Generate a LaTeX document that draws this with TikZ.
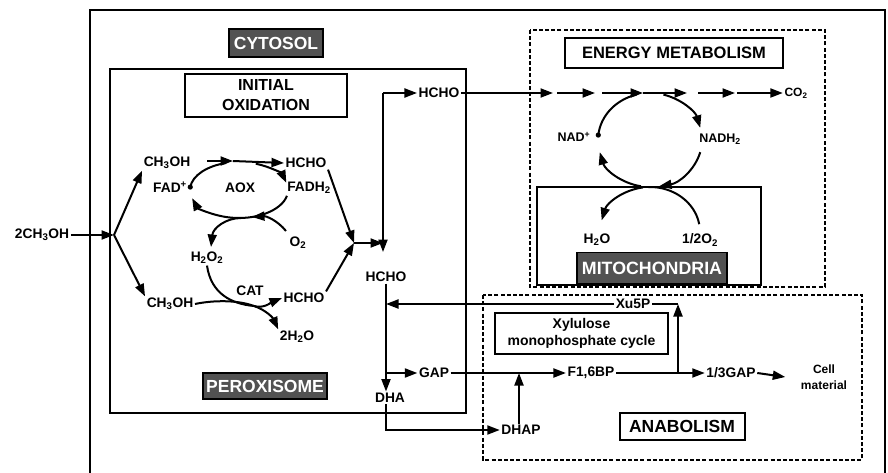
\documentclass[tikz,border=0pt]{standalone}
\usepackage{fontspec}
\setmainfont{Liberation Sans}
\usetikzlibrary{arrows.meta}
\newcommand\lsb[1]{\textsubscript{#1}}
\newcommand\lsp[1]{\textsuperscript{#1}}
\begin{document}
\begin{tikzpicture}[x=1pt,y=-1pt,
  every node/.style={font=\bfseries\fontsize{13.8}{15}\selectfont, inner sep=1.5pt},
  ln/.style={line width=2pt},
  arr/.style={line width=2pt, -{Triangle[length=12.5pt,width=9pt]}},
  hdr/.style={draw, line width=2pt, font=\bfseries\fontsize{16}{20}\selectfont, align=center, inner sep=0pt},
  darklbl/.style={draw, line width=1.8pt, fill=black!68, text=white, font=\bfseries\fontsize{17.5}{18}\selectfont, inner sep=0pt},
  dbox/.style={line width=2pt, dash pattern=on 4pt off 2.2pt},
  sbox/.style={line width=2pt},
]
\useasboundingbox (0,0) rectangle (888,473);
\fill[white] (0,0) rectangle (888,473);

% compartments
\draw[sbox] (90,473) -- (90,10) -- (885,10) -- (885,473);
\draw[sbox] (110,69) rectangle (466,413);
\draw[dbox] (530,30) rectangle (825,287);
\draw[sbox] (537,187) rectangle (761,285);
\draw[dbox] (483,295) rectangle (862,460);

% headers
\node[darklbl, minimum width=94pt, minimum height=28pt] (cyto) at (276,43) {CYTOSOL};
\node[darklbl, minimum width=124pt, minimum height=26pt] (perox) at (265,386) {PEROXISOME};
\node[darklbl, font=\bfseries\fontsize{17.8}{18}\selectfont, minimum width=150pt, minimum height=31pt] (mito) at (652,268) {MITOCHONDRIA};
\node[hdr, minimum width=162pt, minimum height=43pt] (initox) at (266,95.5) {INITIAL\\OXIDATION};
\node[hdr, font=\bfseries\fontsize{16.5}{18}\selectfont, minimum width=218pt, minimum height=30pt] (energy) at (674,53) {ENERGY METABOLISM};
\node[hdr, font=\bfseries\fontsize{17.5}{18}\selectfont, minimum width=125pt, minimum height=27pt] (anab) at (682,426.5) {ANABOLISM};
\node[hdr, font=\bfseries\fontsize{14}{17}\selectfont, minimum width=173pt, minimum height=41pt] (xmp) at (581.5,333.5) {Xylulose\\monophosphate cycle};

% labels
\node (meoh) at (42,235) {2CH\lsb{3}OH};
\node (ch3a) at (167,163) {CH\lsb{3}OH};
\node (fad) at (170,187) {FAD\lsp{+}};
\node (aox) at (240,188) {AOX};
\node (hcho1) at (306,163) {HCHO};
\node (fadh) at (309,188) {FADH\lsb{2}};
\node (o2) at (298,243) {O\lsb{2}};
\node (h2o2) at (207,258) {H\lsb{2}O\lsb{2}};
\node (ch3b) at (170,304) {CH\lsb{3}OH};
\node (cat) at (250,291) {CAT};
\node (hcho2) at (304,298) {HCHO};
\node (h2ob) at (297,337) {2H\lsb{2}O};
\node (hcho0) at (439,93) {HCHO};
\node (hcho3) at (386,277) {HCHO};
\node (gap) at (434,373) {GAP};
\node (dha) at (390,398) {DHA};
\node (dhap) at (521,430) {DHAP};
\node (xu5p) at (633,304) {Xu5P};
\node (f16) at (591,373) {F1,6BP};
\node (g13) at (731,373) {1/3GAP};
\node[font=\bfseries\fontsize{12}{16}\selectfont, align=center] (cell) at (824,377) {Cell\\material};
\node[font=\bfseries\fontsize{12}{13}\selectfont] (co2) at (796,93) {CO\lsb{2}};
\node[font=\bfseries\fontsize{12.5}{13}\selectfont] (nad) at (574,137) {NAD\lsp{+}};
\node[font=\bfseries\fontsize{12.5}{13}\selectfont] (nadh) at (720,139) {NADH\lsb{2}};
\node (h2o) at (597,240) {H\lsb{2}O};
\node (halfo2) at (700,240) {1/2O\lsb{2}};

% coordinates
\coordinate (J) at (114,235);
\coordinate (aoxc) at (239,190);
\coordinate (aoxs) at (207,161);
\coordinate (aoxm) at (233,161);
\coordinate (o2s) at (286,231);
\coordinate (aoxb) at (252,217);
\coordinate (aoxb2) at (241,218);
\coordinate (h2o2t) at (211,247);
\coordinate (cross) at (254,306);
\coordinate (cv) at (354,243);
\coordinate (vtop) at (383,93);
\coordinate (vbot) at (383,252);
\coordinate (ec) at (650,140);
\coordinate (mc) at (650,232);
\coordinate (e1) at (553,93);
\coordinate (e2a) at (557,93);
\coordinate (e2) at (595,93);
\coordinate (e3a) at (602,93);
\coordinate (e3) at (643,93);
\coordinate (e4) at (687,93);
\coordinate (e5a) at (698,93);
\coordinate (e5) at (735,93);
\coordinate (e6a) at (737,93);
\coordinate (xc) at (678,304);
\coordinate (fj) at (678,373);

% methanol entry
\draw[arr] (meoh.east) -- (J);
\draw[arr] (J) -- (ch3a.south west);
\draw[arr] (J) -- (ch3b.north west);

% AOX cycle
\draw[arr] (aoxs) -- (aoxm);
\draw[arr] (aoxm) -- (hcho1.west);
\draw[ln] (aoxc) ++(186:49 and 28) arc[start angle=186, end angle=255, x radius=49, y radius=28];
\fill (aoxc) ++(186:49 and 28) circle[radius=2.6pt];
\draw[arr] (aoxc) ++(290:49 and 28) arc[start angle=290, end angle=345, x radius=49, y radius=28];
\draw[arr] (aoxc) ++(12:49 and 28) arc[start angle=12, end angle=163, x radius=49, y radius=28];
\draw[arr] (o2s) .. controls (277,220) and (266,216) .. (aoxb);
\draw[arr] (aoxb2) .. controls (226,218) and (213,228) .. (h2o2t);

% CAT
\draw[ln] (h2o2.south) .. controls (211,294) and (232,304) .. (cross);
\draw[arr] (cross) .. controls (266,310) and (273,318) .. (h2ob.north west);
\draw[ln] (ch3b.east) .. controls (214,300) and (238,300) .. (cross);
\draw[arr] (cross) .. controls (264,309) and (272,302) .. (hcho2.west);

% to cytosolic HCHO
\draw[arr] (hcho1.south east) -- (cv);
\draw[arr] (hcho2.north east) -- (cv);
\draw[arr] (cv) -- (cv -| vtop);
\draw[arr] (vtop) -- (vbot);
\draw[arr] (vtop) -- (hcho0.west);

% energy metabolism
\draw[arr] (hcho0.east) -- (e1);
\draw[arr] (e2a) -- (e2);
\draw[arr] (e3a) -- (e3);
\draw[arr] (e3) -- (e4);
\draw[arr] (e5a) -- (e5);
\draw[arr] (e6a) -- (co2.west);
\draw[ln] (ec) ++(186:52 and 47) arc[start angle=186, end angle=255, x radius=52, y radius=47];
\fill (ec) ++(186:52 and 47) circle[radius=2.6pt];
\draw[arr] (ec) ++(285:52 and 47) arc[start angle=285, end angle=345, x radius=52, y radius=47];
\draw[arr] (ec) ++(15:52 and 47) arc[start angle=15, end angle=80, x radius=52, y radius=47];
\draw[arr] (ec) ++(100:52 and 47) arc[start angle=100, end angle=165, x radius=52, y radius=47];
\draw[ln] (mc) ++(350:50 and 45) arc[start angle=350, end angle=268, x radius=50, y radius=45];
\draw[arr] (mc) ++(262:50 and 45) arc[start angle=262, end angle=195, x radius=50, y radius=45];

% anabolism
\draw[arr] (hcho3.south) -- (hcho3.south |- dha.north);
\draw[arr] (hcho3.south |- gap) -- (gap.west);
\draw[arr] (hcho3.south |- dha.south) |- (dhap.west);
\draw[arr] (gap.east) -- (f16.west);
\draw[arr] (f16.east) -- (g13.west);
\draw[arr] (g13.east) -- ([xshift=-14pt]cell.west);
\draw[arr] (fj) -- (xc);
\draw[ln] (xc) -- (xu5p.east);
\draw[arr] (xu5p.west) -- (xu5p.west -| hcho3.south);
\draw[arr] ([xshift=-2pt]dhap.north) -- ([xshift=-2pt]dhap.north |- gap.east);
\end{tikzpicture}
\end{document}
